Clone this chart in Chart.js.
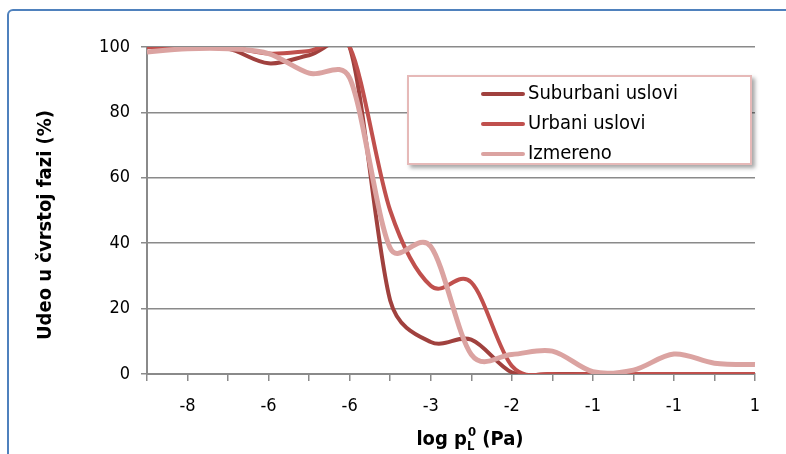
<!DOCTYPE html>
<html>
<head>
<meta charset="utf-8">
<script src="https://cdn.jsdelivr.net/npm/chart.js@4"></script>
<style>
    html, body { margin: 0; padding: 0; background: #fff; overflow: hidden; }
    #wrap { position: relative; width: 786px; height: 454px; overflow: hidden; }
    #frame {
        position: absolute; left: 7px; top: 9px; width: 900px; height: 600px;
        border: 2px solid #4F81BD; border-radius: 6px; box-sizing: border-box;
    }
    #chart { position: absolute; left: 0; top: 0; }
    #legend {
        position: absolute; left: 407px; top: 75px; width: 345px; height: 90px;
        box-sizing: border-box; background: #fff;
        border: 2px solid #E6B9B8; box-shadow: 3px 3px 4px rgba(0,0,0,.35);
        font-family: 'DejaVu Sans Condensed', 'DejaVu Sans', sans-serif; font-size: 20px; color: #000;
    }
    .lg-row { position: absolute; left: 72px; height: 30px; line-height: 30px; white-space: nowrap; }
    .lg-line { display: inline-block; width: 44px; height: 4px; border-radius: 2px; vertical-align: middle; margin-right: 3px; }
</style>
</head>
<body>
<div id="wrap">
    <div id="frame"></div>
    <canvas id="chart" width="786" height="454"></canvas>
    <div id="legend"></div>
</div>
<script>
// ===== data =====
const xLabels = ['', '-8', '', '-6', '', '-6', '', '-3', '', '-2', '', '-1', '', '-1', '', '1'];
const yTicks = [0, 20, 40, 60, 80, 100];

const suburbani = [100, 100, 99.5, 95, 97.5, 100, 22.5, 9.8, 10.5, 0.5, 0, 0, 0, 0, 0, 0];
const urbani = [100, 100, 100, 98, 98.8, 100, 50, 27, 28, 2.5, 0, 0, 0, 0, 0, 0];
const izmereno = [98.5, 99.5, 99.5, 98, 92, 90.5, 38.5, 39, 6, 6, 7, 0.7, 1.2, 6.1, 3.3, 2.9];

const seriesNames = ['Suburbani uslovi', 'Urbani uslovi', 'Izmereno'];
const seriesColors = ['#A0413E', '#C0504D', '#DBA3A1'];
const seriesWidths = [4, 4, 5];

const FONT = "'DejaVu Sans Condensed', 'DejaVu Sans', sans-serif";

// ---- legend (html box like the excel one) ----
const legendEl = document.getElementById('legend');
legendEl.innerHTML = seriesNames.map((name, i) =>
    `<div class="lg-row" style="top:${i * 30}px"><span class="lg-line" style="background:${seriesColors[i]}"></span>${name}</div>`
).join('');

// ---- excel-like smoothing: catmull-rom arms (1/6), capped at half a segment ----
const excelSmooth = {
    id: 'excelSmooth',
    beforeDatasetDraw(chart, args) {
        const line = args.meta.dataset;
        line.updateControlPoints(chart.chartArea, 'x');
        const pts = line.points;
        const n = pts.length;
        for (let i = 0; i < n; i++) {
            const p = pts[i];
            const prev = pts[Math.max(i - 1, 0)];
            const next = pts[Math.min(i + 1, n - 1)];
            const tx = next.x - prev.x, ty = next.y - prev.y;
            const tl = Math.hypot(tx, ty) || 1;
            const aIn = Math.min(tl / 6, Math.hypot(p.x - prev.x, p.y - prev.y) / 2);
            const aOut = Math.min(tl / 6, Math.hypot(next.x - p.x, next.y - p.y) / 2);
            p.cp1x = p.x - tx / tl * aIn; p.cp1y = p.y - ty / tl * aIn;
            p.cp2x = p.x + tx / tl * aOut; p.cp2y = p.y + ty / tl * aOut;
        }
    }
};

// ---- axis titles drawn on canvas (sub / superscript) ----
const axisTitles = {
    id: 'axisTitles',
    afterDraw(chart) {
        const ctx = chart.ctx;
        ctx.save();
        ctx.fillStyle = '#000';
        ctx.font = `bold 20px ${FONT}`;
        ctx.textAlign = 'center';
        ctx.textBaseline = 'middle';
        ctx.translate(46, 225);
        ctx.rotate(-Math.PI / 2);
        ctx.fillText('Udeo u čvrstoj fazi (%)', 0, 0);
        ctx.restore();

        // log pL0 (Pa)
        ctx.save();
        ctx.fillStyle = '#000';
        ctx.textBaseline = 'alphabetic';
        ctx.textAlign = 'left';
        const big = `bold 20px ${FONT}`;
        const small = `bold 13px ${FONT}`;
        const parts = [
            { t: 'log p', f: big, dy: 0 },
            { t: 'L', f: small, dy: 5 },
            { t: '0', f: small, dy: -9 },
            { t: ' (Pa)', f: big, dy: 0 },
        ];
        parts.forEach(p => { ctx.font = p.f; p.w = ctx.measureText(p.t).width; });
        // L and 0 stack at same x
        const w = parts[0].w + Math.max(parts[1].w, parts[2].w) + 1 + parts[3].w;
        let x = 470 - w / 2;
        const base = 445;
        ctx.font = big; ctx.fillText(parts[0].t, x, base); x += parts[0].w;
        ctx.font = small; ctx.fillText(parts[1].t, x, base + parts[1].dy);
        ctx.fillText(parts[2].t, x + 1, base + parts[2].dy);
        x += Math.max(parts[1].w, parts[2].w) + 1;
        ctx.font = big; ctx.fillText(parts[3].t, x, base);
        ctx.restore();
    }
};

const mkSet = (i, data, order) => ({
    label: seriesNames[i],
    data,
    borderColor: seriesColors[i],
    backgroundColor: seriesColors[i],
    borderWidth: seriesWidths[i],
    pointRadius: 0,
    tension: 0.4,
    fill: false,
    order,
});

new Chart(document.getElementById('chart'), {
    type: 'line',
    data: {
        labels: xLabels,
        datasets: [
            mkSet(0, suburbani, 2),
            mkSet(1, urbani, 1),
            mkSet(2, izmereno, 0),
        ]
    },
    options: {
        responsive: false,
        animation: false,
        layout: { padding: { left: 0, right: 31, top: 47, bottom: 0 } },
        plugins: {
            legend: { display: false },
            tooltip: { enabled: false },
        },
        scales: {
            x: {
                offset: false,
                afterFit: s => { s.height = 80; },
                grid: { drawOnChartArea: false, drawTicks: true, tickLength: 7, color: '#8a8a8a', lineWidth: 1.5 },
                border: { color: '#8a8a8a', width: 2 },
                ticks: {
                    autoSkip: false, maxRotation: 0, padding: 15,
                    color: '#000', font: { family: FONT, size: 18 },
                    callback: (v, i) => xLabels[i],
                }
            },
            y: {
                min: 0, max: 100,
                afterFit: s => { s.width = 147; },
                afterBuildTicks: s => { s.ticks = yTicks.map(v => ({ value: v })); },
                grid: { color: '#8a8a8a', lineWidth: 1.5, tickLength: 6 },
                border: { color: '#8a8a8a', width: 2 },
                ticks: { padding: 11, color: '#000', font: { family: FONT, size: 18 } }
            }
        }
    },
    plugins: [excelSmooth, axisTitles]
});
</script>
</body>
</html>
